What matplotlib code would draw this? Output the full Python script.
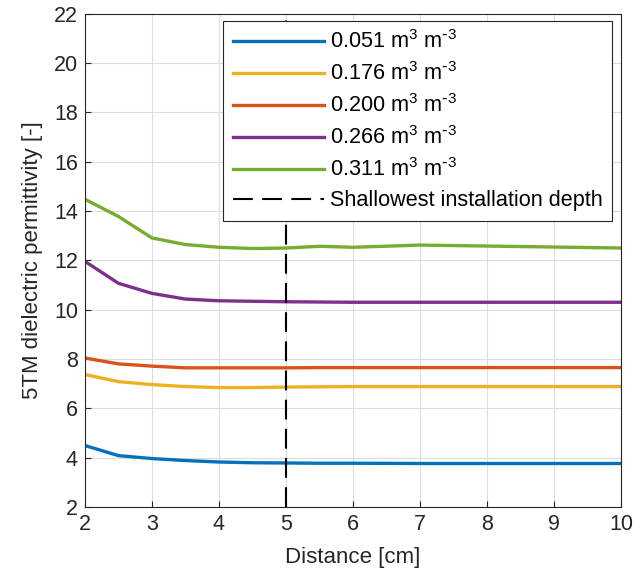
import numpy as np
import matplotlib.pyplot as plt

plt.rcParams['font.family'] = ['Liberation Sans', 'DejaVu Sans']
plt.rcParams['mathtext.default'] = 'regular'

distance = [2, 2.5, 3, 3.5, 4, 4.5, 5, 5.5, 6, 7, 8, 9, 10]
eps_051 = [4.49, 4.08, 3.96, 3.88, 3.82, 3.79, 3.78, 3.77, 3.77, 3.76, 3.76, 3.76, 3.76]
eps_176 = [7.37, 7.08, 6.96, 6.88, 6.84, 6.84, 6.86, 6.87, 6.88, 6.88, 6.88, 6.88, 6.88]
eps_200 = [8.04, 7.80, 7.71, 7.64, 7.64, 7.64, 7.64, 7.65, 7.65, 7.65, 7.65, 7.65, 7.65]
eps_266 = [11.96, 11.07, 10.66, 10.43, 10.36, 10.34, 10.32, 10.31, 10.30, 10.30, 10.30, 10.30, 10.30]
eps_311 = [14.48, 13.78, 12.91, 12.64, 12.53, 12.48, 12.50, 12.57, 12.53, 12.62, 12.58, 12.54, 12.50]

labels = [r'0.051 m$^3$ m$^{\text{-}3}$', r'0.176 m$^3$ m$^{\text{-}3}$', r'0.200 m$^3$ m$^{\text{-}3}$',
          r'0.266 m$^3$ m$^{\text{-}3}$', r'0.311 m$^3$ m$^{\text{-}3}$']
colors = ['#0072BD', '#EDB120', '#D95319', '#7E2F8E', '#77AC30']
install_depth = 5

fig = plt.figure(figsize=(6.43, 5.76), dpi=100)
ax = fig.add_axes([0.132, 0.12, 0.834, 0.856])

for y, lab, c in zip([eps_051, eps_176, eps_200, eps_266, eps_311], labels, colors):
    ax.plot(distance, y, color=c, lw=2.4, label=lab)
ax.axvline(install_depth, color='black', lw=1.5, ls=(0, (9.5, 4.5)),
           label='Shallowest installation depth')

ax.set_xlim(2, 10)
ax.set_ylim(2, 22)
ax.set_xticks(np.arange(2, 11, 1))
ax.set_yticks(np.arange(2, 23, 2))
ax.grid(True, color='#dddddd', lw=0.8)
ax.set_axisbelow(True)
ax.tick_params(direction='in', labelsize=15.5, colors='#262626', length=4, pad=5)
for s in ax.spines.values():
    s.set_color('#262626')
    s.set_linewidth(0.8)
ax.set_xlabel('Distance [cm]', fontsize=16, color='#262626', labelpad=9)
ax.set_ylabel('5TM dielectric permittivity [-]', fontsize=16, color='#262626', labelpad=8)

leg = ax.legend(loc='upper right', bbox_to_anchor=(0.983, 0.986), fontsize=15.6,
                handlelength=4.2, handletextpad=0.25, labelspacing=0.42,
                fancybox=False, framealpha=1, borderpad=0.45, borderaxespad=0)
leg.get_frame().set_edgecolor('#262626')
leg.get_frame().set_linewidth(0.8)

fig.savefig('out.png', dpi=100)
